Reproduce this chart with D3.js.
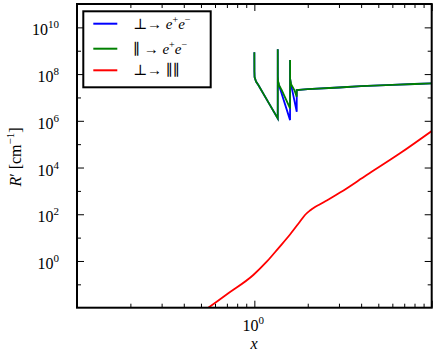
<!DOCTYPE html>
<html><head><meta charset="utf-8">
<script src="https://cdn.jsdelivr.net/npm/d3@7/dist/d3.min.js"></script>
<style>body{margin:0;background:#fff}svg{display:block}</style>
</head><body>
<svg id="c" width="436" height="355"></svg>
<script>
// ---- data ----
const seriesNames = ["perp_pair", "par_pair", "perp_split"];
const seriesColors = ["#0000ff", "#008000", "#ff0000"];

const perpPairX = [1.0, 1.001, 1.003, 1.022, 1.053, 1.2, 1.355, 1.3551, 1.356, 1.36, 1.37, 1.59, 1.5901, 1.591, 1.605, 1.734, 1.7341, 2, 3, 4, 6, 8, 10];
const perpPairY = [8.51e8, 1.26e8, 7.41e7, 4.79e7, 3.39e7, 6.17e6, 1.26e6, 1.15e9, 7.94e7, 5.01e7, 3.72e7, 1.07e6, 3.98e8, 6.31e7, 3.98e7, 2.45e6, 2.07e7, 2.29e7, 2.67e7, 3.07e7, 3.45e7, 3.77e7, 3.98e7];

const parPairX = [1.0, 1.001, 1.003, 1.022, 1.053, 1.2, 1.355, 1.3551, 1.356, 1.36, 1.378, 1.427, 1.59, 1.5901, 1.591, 1.611, 1.681, 1.733, 1.734, 2, 3, 4, 6, 8, 10];
const parPairY = [8.51e8, 1.26e8, 7.41e7, 4.79e7, 3.39e7, 6.17e6, 1.26e6, 1.15e9, 7.94e7, 5.01e7, 3.39e7, 2.07e7, 3.39e6, 3.98e8, 6.31e7, 3.72e7, 2.07e7, 1.07e7, 2.07e7, 2.29e7, 2.67e7, 3.07e7, 3.45e7, 3.77e7, 3.98e7];

const perpSplitX = [0.494, 0.550, 0.713, 0.9865, 1.174, 1.365, 1.589, 1.809, 1.930, 2.060, 2.198, 2.346, 2.602, 3.041, 4.300, 6.627, 10];
const perpSplitY = [5.53e-3, 1.0e-2, 4.13e-2, 0.251, 0.931, 3.49, 13.6, 48.9, 92.9, 144.7, 204.4, 266.7, 419.7, 845, 4788, 40660, 3.66e5];

const xDomain = [0.1, 10];
const yDomain = [1e-2, 1e11];
const xMajorTicks = [0.1, 1, 10];
const xMinorTicks = [0.2, 0.3, 0.4, 0.5, 0.6, 0.7, 0.8, 0.9, 2, 3, 4, 5, 6, 7, 8, 9];
const yMajorTicks = [1e0, 1e2, 1e4, 1e6, 1e8, 1e10];
const yMinorTicks = [1e-1, 1e1, 1e3, 1e5, 1e7, 1e9];
const xTickLabels = [{v: 1, base: "10", exp: "0"}];
const yTickLabels = [
  {v: 1e0, base: "10", exp: "0"}, {v: 1e2, base: "10", exp: "2"}, {v: 1e4, base: "10", exp: "4"},
  {v: 1e6, base: "10", exp: "6"}, {v: 1e8, base: "10", exp: "8"}, {v: 1e10, base: "10", exp: "10"}
];
const legendLabels = [
  [{t: "⊥→ "}, {t: "e", i: true}, {t: "+", sup: true}, {t: "e", i: true}, {t: "−", sup: true}],
  [{t: "∥ → "}, {t: "e", i: true}, {t: "+", sup: true}, {t: "e", i: true}, {t: "−", sup: true}],
  [{t: "⊥→ "}, {t: "∥∥"}]
];

// ---- layout ----
const L = 77, R = 431.7, T = 4, B = 307.7;
const font = "'Liberation Serif', 'DejaVu Serif', serif";
const svg = d3.select("#c");
const x = d3.scaleLog().domain(xDomain).range([L, R]);
const y = d3.scaleLog().domain(yDomain).range([B, T]);

svg.append("defs").append("clipPath").attr("id", "clip")
  .append("rect").attr("x", L).attr("y", T).attr("width", R - L).attr("height", B - T);

function ax(gen, vals, size, tr) {
  const g = svg.append("g").attr("transform", tr)
    .call(gen.tickValues(vals).tickSize(size).tickSizeOuter(0).tickFormat(""));
  g.select(".domain").remove();
  g.selectAll("line").attr("stroke", "#000").attr("stroke-width", 1);
}
ax(d3.axisBottom(x), xMajorTicks, -7, `translate(0,${B})`);
ax(d3.axisBottom(x), xMinorTicks, -4, `translate(0,${B})`);
ax(d3.axisTop(x), xMajorTicks, -7, `translate(0,${T})`);
ax(d3.axisTop(x), xMinorTicks, -4, `translate(0,${T})`);
ax(d3.axisLeft(y), yMajorTicks, -7, `translate(${L},0)`);
ax(d3.axisLeft(y), yMinorTicks, -4, `translate(${L},0)`);
ax(d3.axisRight(y), yMajorTicks, -7, `translate(${R},0)`);
ax(d3.axisRight(y), yMinorTicks, -4, `translate(${R},0)`);

const line = d3.line().x(d => x(d[0])).y(d => y(d[1]));
const smooth = d3.line().x(d => x(d[0])).y(d => y(d[1])).curve(d3.curveMonotoneX);
const series = [
  {xs: perpPairX, ys: perpPairY, gen: line},
  {xs: parPairX, ys: parPairY, gen: line},
  {xs: perpSplitX, ys: perpSplitY, gen: smooth}
];
const plot = svg.append("g").attr("clip-path", "url(#clip)");
series.forEach((s, i) => {
  plot.append("path").datum(s.xs.map((v, k) => [v, s.ys[k]]))
    .attr("d", s.gen).attr("fill", "none").attr("stroke", seriesColors[i])
    .attr("stroke-width", 1.8).attr("stroke-linejoin", "miter");
});

svg.append("rect").attr("x", L).attr("y", T).attr("width", R - L).attr("height", B - T)
  .attr("fill", "none").attr("stroke", "#000").attr("stroke-width", 2);

function powLabel(g, base, exp, xx, yy, anchor) {
  const t = g.append("text").attr("x", xx).attr("y", yy).attr("text-anchor", anchor)
    .attr("font-family", font).attr("font-size", 16).attr("fill", "#000");
  t.append("tspan").text(base);
  t.append("tspan").attr("font-size", 11).attr("dy", -7).text(exp);
  return t;
}
yTickLabels.forEach(d => powLabel(svg, d.base, d.exp, 59, y(d.v) + 8, "end"));
xTickLabels.forEach(d => powLabel(svg, d.base, d.exp, x(d.v) - 1, 331, "middle"));

svg.append("text").attr("x", 254).attr("y", 349).attr("text-anchor", "middle")
  .attr("font-family", font).attr("font-size", 16).attr("font-style", "italic").text("x");
const yl = svg.append("text").attr("transform", "translate(21,157) rotate(-90)")
  .attr("text-anchor", "middle").attr("font-family", font).attr("font-size", 16);
yl.append("tspan").attr("font-style", "italic").text("R");
yl.append("tspan").text("′ [cm");
yl.append("tspan").attr("font-size", 11).attr("dy", -7).text("−1");
yl.append("tspan").attr("dy", 7).text("]");

const lg = svg.append("g");
lg.append("rect").attr("x", 83.3).attr("y", 11.3).attr("width", 127.4).attr("height", 76)
  .attr("fill", "#fff").attr("stroke", "#000").attr("stroke-width", 2);
const rowsY = [23.7, 48.7, 70.3];
legendLabels.forEach((parts, i) => {
  lg.append("line").attr("x1", 93.3).attr("x2", 117.3).attr("y1", rowsY[i]).attr("y2", rowsY[i])
    .attr("stroke", seriesColors[i]).attr("stroke-width", 2);
  const t = lg.append("text").attr("x", 133).attr("y", rowsY[i] + 5)
    .attr("font-family", font).attr("font-size", 15).attr("fill", "#000");
  let up = 0;
  parts.forEach(p => {
    const ts = t.append("tspan").text(p.t);
    if (p.i) ts.attr("font-style", "italic");
    if (p.sup) { ts.attr("font-size", 10).attr("dy", -6 - up); up = -6; }
    else { ts.attr("dy", -up); up = 0; }
  });
});
</script>
</body></html>
